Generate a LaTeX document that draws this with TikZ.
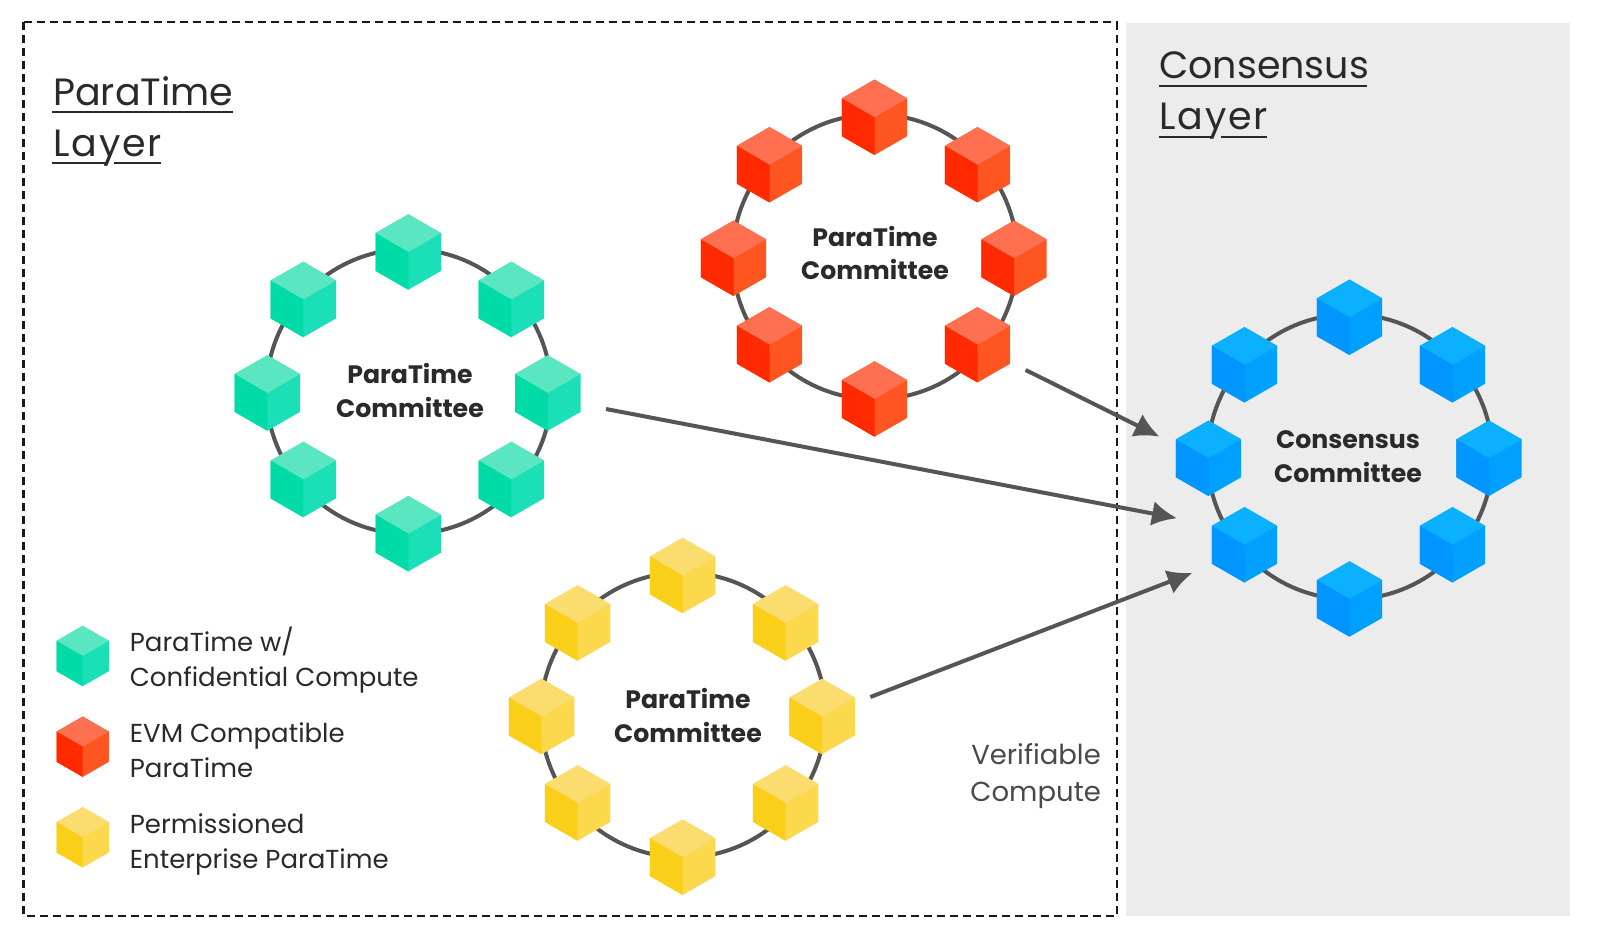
\documentclass[tikz,border=0pt]{standalone}
\usepackage{fontspec}
\setmainfont{Poppins}
\usetikzlibrary{arrows.meta}
\definecolor{grT}{HTML}{5BE6C2}\definecolor{grL}{HTML}{00DBA8}\definecolor{grR}{HTML}{1BE0B7}
\definecolor{reT}{HTML}{FF7050}\definecolor{reL}{HTML}{FF2A00}\definecolor{reR}{HTML}{FF5520}
\definecolor{yeT}{HTML}{FBDC6E}\definecolor{yeL}{HTML}{FACF1A}\definecolor{yeR}{HTML}{FBD84C}
\definecolor{blT}{HTML}{0BB0FF}\definecolor{blL}{HTML}{0095FF}\definecolor{blR}{HTML}{00A0FF}
\definecolor{linegray}{HTML}{555555}
\definecolor{textgray}{HTML}{2A2A2A}
\definecolor{panel}{HTML}{ECECEC}
\newcommand{\cubeat}[4]{%
  \begin{scope}[shift={(#1,#2)},scale=#3]
    \fill[#4R] (0,-37.7) -- (32.7,-18.9) -- (32.7,18.9) -- (0,37.7) -- (-32.7,18.9) -- (-32.7,-18.9) -- cycle;
    \fill[#4T] (0,-37.7) -- (32.7,-18.9) -- (0,0) -- (-32.7,-18.9) -- cycle;
    \fill[#4L] (-32.7,-18.9) -- (0,0) -- (0,37.7) -- (-32.7,18.9) -- cycle;
  \end{scope}}
\newcommand{\ringat}[4]{% name, top x, top y, colour
  \node[ringshape] (#1) at (#2+0.5,#3+139.5) {};
  \cubeat{#2}{#3}{1}{#4}
  \cubeat{#2-105}{#3+47.5}{1}{#4}
  \cubeat{#2+103}{#3+47.5}{1}{#4}
  \cubeat{#2-141}{#3+141}{1}{#4}
  \cubeat{#2+139.5}{#3+141}{1}{#4}
  \cubeat{#2-105}{#3+227.5}{1}{#4}
  \cubeat{#2+103}{#3+227.5}{1}{#4}
  \cubeat{#2}{#3+281.7}{1}{#4}}
\tikzset{
  ringshape/.style={circle,draw=linegray,line width=4pt,minimum size=285pt,inner sep=0pt},
  flow/.style={draw=linegray,line width=4pt,-{Latex[length=25pt,width=25pt]}},
  committee/.style={font=\fontsize{25.2}{25}\selectfont\bfseries,text=textgray,anchor=base,inner sep=0pt},
  legendtext/.style={font=\fontsize{26}{26}\selectfont,text=textgray,anchor=base west,inner sep=0pt},
  titletext/.style={font=\fontsize{38}{38}\selectfont,text=textgray,anchor=base west,inner sep=0pt},
  vctext/.style={font=\fontsize{27.5}{27}\selectfont,text=textgray!85,anchor=base east,inner sep=0pt},
  uline/.style={draw=textgray,line width=1.8pt}
}
\begin{document}
\begin{tikzpicture}[x=1pt,y=-1pt]
\useasboundingbox (0,0) rectangle (1600,940);
\fill[white] (0,0) rectangle (1600,940);
\fill[panel] (1126,23) rectangle (1570,916);
\draw[black!90,line width=2.2pt,dash pattern=on 8pt off 5pt] (23.4,22) rectangle (1116.7,915.7);

\ringat{gr}{408.3}{252}{gr}
\ringat{re}{874.5}{117.3}{re}
\ringat{ye}{682.6}{575.5}{ye}
\ringat{bl}{1349.5}{317.3}{bl}

\node[committee] (gr1) at (410,383.3) {ParaTime};
\node[committee] (gr2) at (410,417) {Committee};
\node[committee] (re1) at (875,246.2) {ParaTime};
\node[committee] (re2) at (875,279.9) {Committee};
\node[committee] (ye1) at (688,708.8) {ParaTime};
\node[committee] (ye2) at (688,742.5) {Committee};
\node[committee] (bl1) at (1348,448.4) {Consensus};
\node[committee] (bl2) at (1348,482.1) {Committee};

\coordinate (a1s) at (1025.7,370); \coordinate (a1e) at (1159.5,436.6);
\coordinate (a2s) at (606,409);    \coordinate (a2e) at (1177,518.2);
\coordinate (a3s) at (870.4,697);  \coordinate (a3e) at (1192.5,572.8);
\draw[flow] (a1s) -- (a1e);
\draw[flow] (a2s) -- (a2e);
\draw[flow] (a3s) -- (a3e);

\node[titletext] (t1) at (53,105) {ParaTime};
\node[titletext] (t2) at (53,156.7) {\addfontfeature{LetterSpace=5}Layer};
\draw[uline] (52,111.7) -- (233.3,111.7);
\draw[uline] (52,162.7) -- (105,162.7) (113.5,162.7) -- (161,162.7);
\node[titletext] (t3) at (1159,78) {Consensus};
\node[titletext] (t4) at (1159,129) {\addfontfeature{LetterSpace=5}Layer};
\draw[uline] (1159,85.7) -- (1367.4,85.7);
\draw[uline] (1159,136.7) -- (1212,136.7) (1220.5,136.7) -- (1267,136.7);

\cubeat{82.7}{656}{0.8}{gr}
\cubeat{82.7}{746.7}{0.8}{re}
\cubeat{82.7}{837.3}{0.8}{ye}
\node[legendtext] (l1) at (129.7,651.7) {ParaTime w/};
\node[legendtext] (l2) at (129.7,686.7) {Confidential Compute};
\node[legendtext] (l3) at (129.7,742.3) {EVM Compatible};
\node[legendtext] (l4) at (129.7,777.2) {ParaTime};
\node[legendtext] (l5) at (129.7,833.3) {Permissioned};
\node[legendtext] (l6) at (129.7,868.2) {Enterprise ParaTime};

\node[vctext] (v1) at (1101,764) {Verifiable};
\node[vctext] (v2) at (1101,801) {Compute};
\end{tikzpicture}
\end{document}
